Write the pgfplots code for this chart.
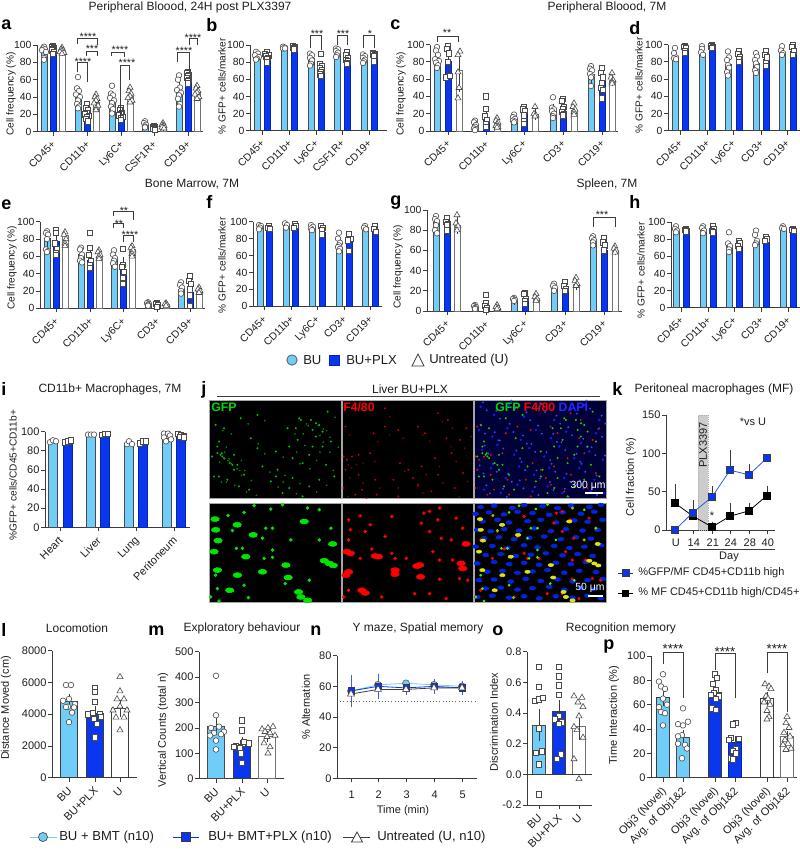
\documentclass[border=0pt]{standalone}
\usepackage{fontspec}
\setmainfont{Liberation Sans}
\usepackage{pgfplots}
\usepackage{pgfplotstable}
\pgfplotsset{compat=1.18}
\definecolor{lbl}{HTML}{6FCDF8}
\definecolor{blu}{HTML}{0A36F0}
\definecolor{axc}{HTML}{3C3C3C}
\definecolor{mkc}{HTML}{4A4A4A}
\definecolor{tc}{HTML}{1E1E1E}
\tikzset{px/.style={x=.75pt,y=-.75pt}}
\newcommand\fsT{\fontsize{9}{10}\selectfont}
\newcommand\fsU{\fontsize{7.8}{9}\selectfont}
\newcommand\fsD{\fontsize{8.25}{9}\selectfont}
\newcommand\fsL{\bfseries\fontsize{13.5}{14}\selectfont}
\newcommand\fsK{\fontsize{9.8}{11}\selectfont}
\newcommand\fsY{\fontsize{7.6}{9}\selectfont}
\newcommand\fsZ{\fontsize{8.25}{9}\selectfont}
\newcommand\ttl[3]{\node[font=\fsT,text=tc,inner sep=0pt] at (#1,#2) {#3};}
\newcommand\ltr[3]{\node[font=\fsL,text=black,anchor=west,inner sep=0pt] at (#1,#2) {#3};}
\newcommand\yl[3]{\node[font=\fsY,text=tc,rotate=90,inner sep=0pt] at (#1,#2) {#3};}
\newcommand\zl[3]{\node[font=\fsZ,text=tc,rotate=90,inner sep=0pt] at (#1,#2) {#3};}
\newcommand\brk[5]{\draw[draw=axc,line width=.45pt] (#1,#4) -- (#1,#3) -- (#2,#3) -- (#2,#5);}
\newcommand\str[3]{\node[font=\fontsize{8}{8}\selectfont,text=tc,inner sep=0pt,yshift=-1pt] at (#1,#2) {#3};}
\newcommand\strb[3]{\node[font=\fontsize{10}{10}\selectfont,text=tc,inner sep=0pt,yshift=-1.5pt] at (#1,#2) {#3};}
\pgfplotsset{
 pan/.style n args={4}{scale only axis, clip=false, xmin=#1, xmax=#2, ymin=0, enlargelimits=false,
   width={(#2-#1)*0.75pt}, height={(#3-#4)*0.75pt}, at={(#1*0.75pt,-#3*0.75pt)}, anchor=south west,
   axis lines=left, axis line style={-,color=axc,line width=.6pt},
   tick align=outside, major tick length=3pt, tick style={color=axc,line width=.6pt},
   /pgf/number format/assume math mode=true, /pgf/number format/1000 sep={},
   tick label style={font=\fsU,text=tc,inner sep=1pt},
   xticklabel style={rotate=45,anchor=north east,inner sep=1.2pt,xshift=-2pt},
   /pgf/bar width=5.8},
 low/.style={tick label style={font=\fsD,text=tc,inner sep=1pt}},
 flat/.style={xticklabel style={rotate=-45,anchor=north,inner sep=0pt,xshift=2pt,yshift=-#1}},
 lb/.style={ybar,fill=lbl,draw=mkc,line width=.5pt},
 bb/.style={ybar,fill=blu,draw=blu!70!black,line width=.5pt},
 wb/.style={ybar,fill=white,draw=gray!90!black,line width=.5pt},
 err/.style={draw=none,mark=none,error bars/.cd,y dir=both,y explicit,error bar style={color=axc,line width=.5pt},error mark options={color=axc,mark size=1.8pt}},
 cm/.style={only marks,mark=*,mark size=2.1pt,mark options={fill=white,draw=mkc,line width=.45pt}},
 sm/.style={only marks,mark=square*,mark size=2pt,mark options={fill=white,draw=mkc,line width=.45pt}},
 tm/.style={only marks,mark=triangle*,mark size=2.6pt,mark options={fill=white,draw=mkc,line width=.45pt}},
 img/.style n args={4}{scale only axis,hide axis,clip=true,xmin=0,xmax=395,ymin=0,ymax=295,y dir=reverse,
   width={(#2-#1)*0.75pt},height={(#4-#3)*0.75pt},at={(#1*0.75pt,-#4*0.75pt)},anchor=south west},
 spk/.style={only marks,mark=*,mark size=#1,mark options={draw=none}},
 spe/.style={only marks,mark=*,mark size=#1,mark options={draw=none,xscale=1.7,rotate=-35}},
}
\pgfplotstableread[row sep=crcr]{x y\\
270 55\\275 60\\305 60\\320 70\\330 75\\235 85\\260 85\\310 90\\340 95\\45 85\\20 75\\145 45\\240 140\\30 125\\25 140\\35 165\\25 160\\40 170\\10 170\\75 165\\70 195\\75 210\\105 225\\30 230\\55 240\\145 145\\200 155\\310 140\\340 140\\365 125\\265 120\\205 210\\200 230\\250 235\\185 245\\120 270\\220 280\\300 260\\350 195\\375 230\\330 240\\280 190\\160 200\\95 55\\355 35\\125 115\\90 260\\15 230\\250 175\\300 165\\320 110\\240 265\\280 290\\45 175\\38 160\\62 190\\85 195\\
}\tgreen
\pgfplotstableread[row sep=crcr]{x y\\
10 80\\5 170\\15 180\\30 170\\50 165\\85 160\\10 210\\50 225\\4 265\\40 285\\130 80\\95 100\\170 90\\130 25\\175 190\\200 210\\155 240\\100 240\\60 270\\105 285\\170 290\\229 80\\289 40\\319 60\\250 100\\315 115\\355 120\\330 160\\280 175\\240 200\\365 220\\290 225\\215 235\\340 265\\230 255\\270 275\\375 85\\
}\tred
\pgfplotstableread[row sep=crcr]{x y\\
20 20\\60 45\\105 15\\150 50\\195 25\\240 60\\290 30\\330 15\\375 60\\15 90\\55 110\\100 85\\140 120\\185 90\\230 115\\275 95\\320 130\\365 100\\25 150\\70 135\\120 165\\165 145\\210 170\\255 140\\300 175\\345 155\\385 180\\10 210\\50 205\\95 235\\135 200\\180 225\\225 205\\270 235\\315 205\\360 240\\30 270\\80 280\\130 255\\175 275\\220 260\\265 280\\310 255\\350 275\\390 280\\
}\tnoise
\pgfplotstableread[row sep=crcr]{x y\\
18 48\\84 65\\20 80\\132 95\\285 55\\27 112\\15 145\\370 122\\110 160\\360 180\\345 172\\372 186\\25 200\\85 215\\160 205\\237 222\\62 260\\268 265\\275 280\\295 290\\230 185\\
}\tgbig
\pgfplotstableread[row sep=crcr]{x y\\
57 37\\70 82\\170 75\\190 75\\185 18\\295 15\\160 105\\245 110\\330 110\\365 75\\82 135\\100 135\\190 140\\190 162\\165 165\\20 215\\300 230\\228 240\\25 255\\105 245\\118 282\\5 280\\30 292\\135 8\\220 5\\330 20\\105 28\\
}\tgsmall
\pgfplotstableread[row sep=crcr]{x y\\
15 145\\25 150\\20 205\\12 215\\60 260\\70 268\\160 200\\160 212\\110 160\\100 158\\374 122\\234 185\\226 188\\359 180\\364 195\\237 220\\
}\trbig
\pgfplotstableread[row sep=crcr]{x y\\
20 50\\55 38\\25 80\\85 65\\70 85\\20 110\\55 165\\90 137\\130 100\\150 150\\150 40\\160 165\\20 260\\120 280\\5 280\\264 25\\294 15\\247 30\\289 50\\344 45\\239 60\\364 75\\264 85\\299 105\\329 110\\274 145\\294 170\\334 170\\294 227\\354 225\\379 230\\264 270\\219 270\\314 285\\194 165\\
}\trsmall
\pgfplotstableread[row sep=crcr]{x y\\
20 12\\60 8\\115 14\\150 6\\205 10\\250 15\\290 8\\345 12\\380 6\\5 32\\45 28\\90 34\\130 26\\175 30\\225 35\\265 28\\320 32\\360 26\\25 55\\70 50\\105 58\\160 54\\200 50\\245 58\\300 52\\340 56\\385 50\\10 80\\50 84\\90 78\\135 82\\180 76\\230 84\\275 78\\325 82\\370 80\\30 105\\75 102\\120 108\\165 104\\210 100\\260 108\\305 102\\350 106\\5 130\\55 128\\100 134\\150 126\\190 132\\240 128\\285 134\\330 130\\380 126\\35 155\\80 152\\125 158\\170 154\\215 150\\265 156\\310 152\\355 158\\10 180\\60 176\\105 182\\150 178\\195 184\\245 178\\290 182\\335 176\\40 205\\85 202\\130 208\\175 204\\220 200\\270 208\\315 202\\365 206\\15 230\\60 228\\110 234\\155 226\\200 232\\250 228\\295 234\\340 230\\385 226\\35 255\\80 252\\130 258\\175 254\\225 250\\270 258\\320 252\\360 256\\10 280\\55 276\\105 282\\150 278\\195 284\\245 278\\295 282\\340 276\\380 284\\
}\tblue
\begin{document}
\begin{tikzpicture}
\useasboundingbox (0,0) rectangle (600pt,-638.25pt);

% ---------- panel a
\begin{axis}[pan={37}{203}{131.7}{45},ymax=100,ytick={0,20,...,100},xtick={53,87,121,154,188},xticklabels={CD45+,CD11b+,Ly6C+,CSF1R+,CD19+}]
\addplot[lb] coordinates {(44,91)(78,40)(112,35)(145,7)(179,46)};
\addplot[bb] coordinates {(53,94)(87,19)(121,19)(154,5)(188,62)};
\addplot[wb] coordinates {(62,92)(96,34)(130,41)(163,6)(197,45)};
\addplot[err] coordinates {(44,91)+-(0,4)(78,40)+-(0,8)(112,35)+-(0,6)(145,7)+-(0,2)(179,46)+-(0,8)(53,94)+-(0,3)(87,19)+-(0,5)(121,19)+-(0,3)(154,5)+-(0,1)(188,62)+-(0,4)(62,92)+-(0,2)(96,34)+-(0,5)(130,41)+-(0,5)(163,6)+-(0,2)(197,45)+-(0,4)};
\addplot[cm] coordinates {(44,98)(43,96)(45,95)(42,94)(46,92)(44,85)(44,83)(78,63)(77,50)(79,47)(76,43)(80,40)(78,36)(77,32)(79,29)(78,27)(112,53)(111,44)(113,42)(110,39)(114,36)(112,33)(111,29)(113,26)(112,21)(145,12)(144,10)(146,8)(145,6)(145,5)(179,65)(178,60)(180,51)(177,48)(181,45)(179,42)(178,38)(180,32)(179,29)};
\addplot[sm] coordinates {(53,99)(52,98)(54,97)(53,95)(52,94)(54,92)(53,90)(87,32)(86,27)(88,25)(87,22)(85,20)(89,18)(87,17)(86,15)(88,12)(121,27)(120,25)(122,22)(121,20)(119,19)(123,17)(121,16)(121,14)(154,7)(153,6)(155,5)(154,4)(153,3)(155,2)(188,69)(187,68)(189,66)(188,64)(187,62)(189,60)(188,58)(188,56)};
\addplot[tm] coordinates {(62,97)(61,95)(63,94)(62,93)(60,92)(64,91)(62,90)(96,43)(95,40)(97,38)(96,36)(94,33)(98,30)(96,27)(96,25)(130,51)(129,47)(131,44)(130,41)(128,39)(132,36)(130,34)(163,10)(162,8)(164,7)(163,6)(162,5)(164,4)(197,53)(196,50)(198,47)(197,45)(195,43)(199,40)(197,38)};
\end{axis}
% ---------- panel b
\begin{axis}[pan={250}{387}{130.7}{45},ymax=100,ytick={0,20,...,100},xtick={262,289,316,342,369},xticklabels={CD45+,CD11b+,Ly6C+,CSF1R+,CD19+}]
\addplot[lb] coordinates {(257,85)(284,97)(311,84)(337,90)(364,82)};
\addplot[bb] coordinates {(267,84)(294,95)(321,70)(347,80)(374,87)};
\addplot[cm] coordinates {(256,92)(258,90)(255,88)(259,86)(257,84)(256,83)(283,98)(285,97)(283,96)(285,96)(310,90)(312,88)(310,85)(312,82)(311,78)(310,76)(336,96)(338,95)(336,93)(338,91)(337,88)(336,86)(363,89)(365,87)(363,85)(365,83)(364,81)(363,79)};
\addplot[sm] coordinates {(267,92)(265,90)(269,88)(266,87)(268,85)(267,84)(267,80)(293,99)(295,98)(293,97)(295,96)(294,95)(321,90)(320,78)(322,76)(320,73)(322,71)(321,69)(320,66)(321,64)(347,92)(346,88)(348,85)(346,83)(348,81)(347,79)(347,78)(373,91)(375,90)(373,89)(375,88)(374,87)(374,81)};
\end{axis}
% ---------- panel c
\begin{axis}[pan={430}{618}{131}{44.5},ymax=100,ytick={0,20,...,100},xtick={448,486,524,563,602},xticklabels={CD45+,CD11b+,Ly6C+,CD3+,CD19+}]
\addplot[lb] coordinates {(437,83)(475,7)(514,14)(553,23)(591,65)};
\addplot[bb] coordinates {(448,80)(486,16)(524,20)(563,22)(602,57)};
\addplot[wb] coordinates {(459,70)(497,9)(535,19)(574,24)(612,59)};
\addplot[err] coordinates {(437,83)+-(0,7)(475,7)+-(0,3)(514,14)+-(0,3)(553,23)+-(0,6)(591,65)+-(0,7)(448,80)+-(0,14)(486,16)+-(0,10)(524,20)+-(0,7)(563,22)+-(0,6)(602,57)+-(0,11)(459,70)+-(0,22)(497,9)+-(0,4)(535,19)+-(0,4)(574,24)+-(0,4)(612,59)+-(0,4)};
\addplot[cm] coordinates {(437,97)(436,93)(438,88)(435,83)(439,81)(436,79)(438,76)(437,73)(475,12)(474,10)(476,7)(475,5)(474,3)(476,2)(475,1)(514,19)(513,16)(515,14)(513,12)(515,11)(514,10)(553,39)(552,27)(554,25)(552,23)(554,20)(553,17)(553,15)(591,75)(590,72)(592,70)(590,66)(592,63)(591,62)(591,52)};
\addplot[sm] coordinates {(448,98)(447,95)(449,90)(448,80)(446,62)(450,64)(486,40)(486,26)(485,17)(487,13)(486,8)(486,5)(524,28)(523,25)(525,23)(524,18)(524,12)(524,8)(563,37)(562,35)(564,28)(563,25)(562,22)(564,20)(563,18)(602,73)(601,67)(603,62)(602,55)(601,50)(603,48)(602,38)};
\addplot[tm] coordinates {(460,92)(458,88)(458,68)(459,50)(458,38)(497,15)(496,12)(498,10)(497,8)(496,6)(498,5)(497,4)(535,28)(534,20)(536,18)(535,17)(574,32)(573,28)(575,25)(574,22)(574,19)(612,67)(611,62)(613,59)(612,57)(612,55)};
\end{axis}
% ---------- panel d
\begin{axis}[pan={668}{800}{130.7}{44.5},ymax=100,ytick={0,20,...,100},xtick={680,707,733,761,787},xticklabels={CD45+,CD11b+,Ly6C+,CD3+,CD19+}]
\addplot[lb] coordinates {(675,85)(702,90)(728,77)(756,78)(782,91)};
\addplot[bb] coordinates {(685,93)(712,96)(739,85)(766,83)(793,92)};
\addplot[cm] coordinates {(675,96)(674,90)(676,85)(674,84)(676,83)(702,98)(702,95)(701,91)(703,88)(728,92)(729,85)(727,82)(728,76)(729,73)(727,68)(728,64)(756,90)(757,86)(755,82)(756,78)(757,74)(755,70)(756,67)(782,98)(781,93)(783,90)(782,88)};
\addplot[sm] coordinates {(685,98)(684,97)(686,96)(685,93)(685,90)(712,99)(711,98)(713,97)(712,96)(739,93)(738,89)(740,85)(739,83)(739,80)(766,92)(765,88)(767,85)(766,79)(766,75)(793,99)(792,97)(794,92)(793,88)};
\end{axis}
% ---------- panel e
\begin{axis}[pan={40}{205}{308.3}{221.7},ymax=100,ytick={0,20,...,100},xtick={56,90,123,157,190},xticklabels={CD45+,CD11b+,Ly6C+,CD3+,CD19+}]
\addplot[lb] coordinates {(47,81)(81,62)(114,57)(148,5)(181,22)};
\addplot[bb] coordinates {(56,77)(90,55)(123,44)(157,5)(190,19)};
\addplot[wb] coordinates {(65,84)(99,60)(132,68)(166,5)(199,20)};
\addplot[err] coordinates {(47,81)+-(0,8)(81,62)+-(0,6)(114,57)+-(0,6)(148,5)+-(0,2)(181,22)+-(0,5)(56,77)+-(0,10)(90,55)+-(0,8)(123,44)+-(0,13)(157,5)+-(0,2)(190,19)+-(0,12)(65,84)+-(0,5)(99,60)+-(0,3)(132,68)+-(0,4)(166,5)+-(0,1)(199,20)+-(0,2)};
\addplot[cm] coordinates {(47,89)(46,87)(48,85)(47,80)(46,68)(48,66)(47,65)(81,70)(80,68)(82,62)(81,58)(80,55)(82,53)(114,67)(113,62)(115,58)(114,55)(113,52)(115,48)(148,7)(147,6)(149,5)(148,4)(148,3)(181,30)(180,27)(182,24)(181,20)(181,17)};
\addplot[sm] coordinates {(56,90)(56,87)(55,75)(57,68)(56,64)(56,62)(90,87)(90,70)(89,62)(91,55)(90,50)(90,47)(123,69)(123,50)(122,48)(124,42)(123,35)(123,28)(157,6)(156,5)(158,4)(157,2)(190,37)(189,32)(191,28)(190,22)(190,15)(190,3)};
\addplot[tm] coordinates {(65,88)(64,85)(66,80)(65,75)(65,72)(99,67)(98,65)(100,62)(99,60)(99,57)(132,72)(131,70)(133,67)(132,63)(132,60)(166,6)(165,5)(167,4)(166,3)(199,24)(198,22)(200,20)(199,18)};
\end{axis}
% ---------- panel f
\begin{axis}[pan={253}{382}{306.3}{221.7},ymax=100,ytick={0,20,...,100},xtick={264,291,317,344,370},xticklabels={CD45+,CD11b+,Ly6C+,CD3+,CD19+}]
\addplot[lb] coordinates {(260,93)(286,95)(312,93)(339,70)(365,93)};
\addplot[bb] coordinates {(269,92)(295,94)(322,88)(349,78)(375,90)};
\addplot[cm] coordinates {(259,96)(261,95)(260,93)(259,91)(285,98)(287,96)(286,93)(311,96)(313,94)(311,92)(312,90)(339,87)(338,80)(340,75)(339,72)(338,70)(340,68)(339,65)(365,95)(364,93)(366,91)};
\addplot[sm] coordinates {(269,95)(268,93)(270,92)(295,97)(296,95)(294,93)(321,95)(323,93)(322,90)(322,85)(349,86)(351,80)(348,78)(349,66)(375,95)(374,92)(376,88)};
\end{axis}
% ---------- panel g
\begin{axis}[pan={427}{622}{311}{210},ymax=100,ytick={0,20,...,100},xtick={447,486,525,565,604},xticklabels={CD45+,CD11b+,Ly6C+,CD3+,CD19+}]
\addplot[lb] coordinates {(436,88)(475,4)(514,10)(554,22)(593,70)};
\addplot[bb] coordinates {(447,83)(486,4)(525,12)(565,20)(604,60)};
\addplot[wb] coordinates {(457,85)(497,3)(536,13)(576,26)(615,60)};
\addplot[err] coordinates {(436,88)+-(0,6)(475,4)+-(0,1)(514,10)+-(0,2)(554,22)+-(0,3)(593,70)+-(0,3)(447,83)+-(0,6)(486,4)+-(0,5)(525,12)+-(0,5)(565,20)+-(0,4)(604,60)+-(0,5)(457,85)+-(0,6)(497,3)+-(0,1)(536,13)+-(0,3)(576,26)+-(0,3)(615,60)+-(0,2)};
\addplot[cm] coordinates {(436,94)(435,91)(437,89)(436,85)(435,80)(437,77)(475,6)(474,5)(476,4)(475,3)(475,2)(514,13)(513,12)(515,11)(514,10)(554,27)(553,25)(555,23)(554,20)(593,74)(592,72)(594,70)(593,68)(593,65)};
\addplot[sm] coordinates {(447,92)(446,88)(448,86)(447,85)(447,80)(486,16)(486,8)(485,5)(487,3)(486,1)(525,18)(524,17)(526,12)(525,10)(525,7)(565,29)(564,25)(566,22)(565,20)(604,72)(603,68)(605,65)(604,60)};
\addplot[tm] coordinates {(457,95)(456,87)(458,84)(457,80)(497,6)(496,4)(498,3)(497,2)(536,17)(535,14)(537,12)(536,10)(576,33)(575,30)(577,27)(576,25)(615,64)(614,62)(616,60)(615,58)};
\end{axis}
% ---------- panel h
\begin{axis}[pan={671}{800}{307.7}{222},ymax=100,ytick={0,20,...,100},xtick={681,708,734,761,788},xticklabels={CD45+,CD11b+,Ly6C+,CD3+,CD19+}]
\addplot[lb] coordinates {(676,90)(703,92)(729,72)(756,76)(783,93)};
\addplot[bb] coordinates {(686,89)(713,90)(739,70)(766,78)(793,91)};
\addplot[cm] coordinates {(676,95)(675,92)(677,90)(676,88)(703,95)(702,93)(704,90)(703,87)(729,88)(728,75)(730,72)(729,68)(729,65)(756,90)(755,85)(757,78)(756,75)(755,73)(783,95)(782,93)(784,92)};
\addplot[sm] coordinates {(686,92)(685,91)(687,90)(686,89)(713,95)(714,92)(712,90)(713,88)(739,78)(740,75)(738,72)(739,69)(766,82)(767,80)(765,78)(793,92)(792,91)(794,90)};
\end{axis}
% ---------- panel i
\begin{axis}[pan={45}{190}{527.3}{431.7},ymax=100,low,ytick={0,20,...,100},xtick={60,98,136,174},xticklabels={Heart,Liver,Lung,Peritoneum},/pgf/bar width=8.6]
\addplot[lb] coordinates {(53,90)(91,97)(129,87)(167,93)};
\addplot[bb] coordinates {(68,89)(105,97)(143,88)(181,94)};
\addplot[cm] coordinates {(50,89)(53,91)(56,90)(88,97)(91,97)(94,97)(127,87)(129,90)(132,87)(164,98)(168,98)(164,94)(170,96)(166,90)(171,92)};
\addplot[sm] coordinates {(65,89)(68,90)(71,91)(102,97)(105,98)(108,98)(140,88)(143,90)(146,90)(178,98)(181,97)(184,96)(180,95)(184,94)};
\end{axis}
% ---------- panel j (micrographs)
\begin{scope}[px]
\foreach \xa/\xb/\ya/\yb in {209/341/400/498,342/473/400/498,474/606/400/498,209/341/503/602,342/473/503/602,474/606/503/602}{
  \fill[black,draw=gray!70,line width=.5pt] (\xa,\ya) rectangle (\xb,\yb);
}
\fill[blue!22!black] (474.5,400.5) rectangle (605.5,497.5);
\end{scope}
\begin{axis}[img={209}{341}{400}{498}]
\addplot[spk=.55pt,color=green!75!black] table {\tgreen};
\addplot[spk=.4pt,color=green!55!black] table[x expr=\thisrow{x}+22,y expr=\thisrow{y}+17] {\tgreen};
\end{axis}
\begin{axis}[img={342}{473}{400}{498}]
\addplot[spk=.5pt,color=red!80!black] table {\tred};
\addplot[spk=.35pt,color=red!60!black] table[x expr=\thisrow{x}+14,y expr=\thisrow{y}+25] {\tred};
\end{axis}
\begin{axis}[img={474}{606}{400}{498}]
\addplot[spk=.7pt,color=blue!90!white] table {\tnoise};
\addplot[spk=.5pt,color=blue!75!white] table[x expr=\thisrow{x}+18,y expr=\thisrow{y}+11] {\tnoise};
\addplot[spk=.5pt,color=blue!75!white] table[x expr=\thisrow{x}+7,y expr=\thisrow{y}-13] {\tnoise};
\addplot[spk=.5pt,color=red] table {\tred};
\addplot[spk=.55pt,color=green!85!black] table {\tgreen};
\end{axis}
\begin{axis}[img={209}{341}{503}{602}]
\addplot[spe=1.9pt,color=green!90!black] table {\tgbig};
\addplot[spk=1.1pt,color=green!90!black] table {\tgsmall};
\end{axis}
\begin{axis}[img={342}{473}{503}{602}]
\addplot[spe=1.9pt,color=red] table {\trbig};
\addplot[spk=1.1pt,color=red] table {\trsmall};
\end{axis}
\begin{axis}[img={474}{606}{503}{602}]
\addplot[spe=1.4pt,color=blue!85!cyan!90!black] table {\tblue};
\addplot[spk=1pt,color=red] table {\trsmall};
\addplot[spe=1.2pt,color=yellow!85!green] table {\tgbig};
\addplot[spk=.8pt,color=green!80!yellow] table {\tgsmall};
\end{axis}
\begin{scope}[px]
\draw[axc,line width=.6pt] (217,396) -- (600,396);
\node[font=\fsT,text=tc,inner sep=0pt] at (410,389) {Liver BU+PLX};
\def\fsJ{\bfseries\fontsize{9.2}{10}\selectfont}
\node[font=\fsJ,text=green!85!black,anchor=west,inner sep=0pt] at (211,407) {GFP};
\node[font=\fsJ,text=red,anchor=west,inner sep=0pt] at (343,407) {F4/80};
\node[font=\fsJ,anchor=west,inner sep=0pt] at (495,407) {\textcolor{green!85!black}{GFP} \textcolor{red}{F4/80} \textcolor{blue!85!white}{DAPI}};
\node[font=\fsU,text=white,inner sep=0pt] at (588,486) {300 μm};
\fill[white] (585,492) rectangle (603,494);
\node[font=\fsU,text=white,inner sep=0pt] at (590,588) {50 μm};
\fill[white] (588,595) rectangle (603,597);
\end{scope}
% ---------- panel k
\begin{axis}[pan={666}{775}{530}{415},ymax=150,low,ytick={0,50,100,150},xtick={675,693,712,730,749,767},xticklabels={U,14,21,24,28,40},flat=2pt]
\fill[gray!40,draw=gray!60,densely dotted] (axis cs:698,0) rectangle (axis cs:708,150);
\addplot[draw=none,mark=none,error bars/.cd,y dir=plus,y explicit,error bar style={color=axc,line width=.5pt},error mark options={color=axc,mark size=2.2pt}] coordinates {(675,35)+-(0,21)(693,18)+-(0,17)(712,4)+-(0,3)(730,18)+-(0,13)(749,25)+-(0,6)(767,45)+-(0,9)(693,23)+-(0,12)(712,43)+-(0,10)(730,78)+-(0,23)(749,72)+-(0,10)};
\addplot[color=black,line width=.6pt,mark=square*,mark size=2.6pt,mark options={fill=black,draw=black}] coordinates {(675,35)(693,18)(712,4)(730,18)(749,25)(767,45)};
\addplot[color=blu!85!white,line width=.6pt,mark=square*,mark size=2.6pt,mark options={fill=blu,draw=axc,line width=.4pt}] coordinates {(675,0)(693,23)(712,43)(730,78)(749,72)(767,94)};
\end{axis}
\begin{scope}[px]
\node[font=\fsD,text=tc,rotate=90,inner sep=0pt] at (703,445) {PLX3397};
\node[font=\fsD,text=tc,inner sep=0pt] at (753,422) {*vs U};
\node[font=\fsD,text=tc,inner sep=0pt] at (712,516) {*};
\draw[axc,line width=.5pt] (689,549) -- (775,549);
\node[font=\fsD,text=tc,inner sep=0pt] at (729,557) {Day};
\draw[blu,line width=.6pt] (618,573) -- (633,573);
\fill[blu,draw=axc,line width=.4pt] (622,569.5) rectangle (629,576.5);
\node[font=\fsD,text=tc,anchor=west,inner sep=0pt] at (638,573) {\%GFP/MF CD45+CD11b high};
\draw[black,line width=.6pt] (618,593) -- (633,593);
\fill[black] (622,589.5) rectangle (629,596.5);
\node[font=\fsD,text=tc,anchor=west,inner sep=0pt] at (638,593) {\% MF CD45+CD11b high/CD45+};
\end{scope}
% ---------- panel l
\begin{axis}[pan={52}{137}{777.7}{650.7},ymax=8000,low,ytick={0,2000,4000,6000,8000},xtick={69,95,120},xticklabels={BU,BU+PLX,U},/pgf/bar width=16.5]
\addplot[lb,draw=axc] coordinates {(69,4800)};
\addplot[bb,draw=axc] coordinates {(95,4050)};
\addplot[wb,draw=axc] coordinates {(120,4350)};
\addplot[err] coordinates {(69,4800)+-(0,300)(95,4050)+-(0,320)(120,4350)+-(0,370)};
\addplot[cm] coordinates {(66,5840)(71,5840)(63,4850)(69,4960)(75,4640)(68,4470)(74,4430)(66,4450)(72,4100)(69,3500)};
\addplot[sm] coordinates {(95,5650)(95,5400)(95,4800)(88,4000)(93,4100)(100,4000)(101,3850)(94,3700)(97,3400)(95,2550)};
\addplot[tm] coordinates {(120,6350)(120,5450)(117,4950)(124,4950)(120,4500)(113,4250)(127,4250)(116,3800)(124,3800)(120,3000)};
\end{axis}
% ---------- panel m
\begin{axis}[pan={199}{284}{778.7}{651.7},ymax=500,low,ytick={0,100,...,500},xtick={216,242,267},xticklabels={BU,BU+PLX,U},/pgf/bar width=16.5]
\addplot[lb] coordinates {(216,205)};
\addplot[bb,draw=axc] coordinates {(242,135)};
\addplot[wb] coordinates {(267,165)};
\addplot[err] coordinates {(216,205)+-(0,25)(242,135)+-(0,18)(267,165)+-(0,12)};
\addplot[cm] coordinates {(216,405)(216,250)(211,200)(219,205)(224,185)(214,180)(221,175)(210,170)(216,150)(216,115)};
\addplot[sm] coordinates {(242,230)(242,190)(236,130)(243,140)(249,140)(240,120)(234,125)(241,100)(242,62)(244,145)};
\addplot[tm] coordinates {(262,195)(268,200)(273,205)(265,185)(270,180)(275,170)(264,140)(270,125)(268,100)(267,165)};
\end{axis}
% ---------- panel n
\begin{axis}[pan={337}{477}{778.3}{655.7},ymax=80,low,ytick={0,20,...,80},xtick={351,378,406,434,462},xticklabels={1,2,3,4,5},flat=5pt]
\draw[axc!80,dotted,line width=.4pt] (axis cs:337,50) -- (axis cs:477,50);
\addplot[draw=none,mark=none,error bars/.cd,y dir=both,y explicit,error bar style={color=blu!80!white,line width=.5pt},error mark options={color=blu!80!white,mark size=2pt}] coordinates {(351,57)+-(0,8.5)(378,60)+-(0,6.5)(406,59)+-(0,3)(434,60)+-(0,3)(462,59)+-(0,3)};
\addplot[color=lbl,line width=.6pt,mark=*,mark size=2.6pt,mark options={fill=lbl,draw=mkc,line width=.4pt}] coordinates {(351,57)(378,61)(406,62)(434,61)(462,60)};
\addplot[color=blu,line width=.6pt,mark=square*,mark size=2.4pt,mark options={fill=blu,draw=axc,line width=.4pt}] coordinates {(351,57)(378,60)(406,59)(434,60)(462,59)};
\addplot[color=axc,line width=.6pt,mark=triangle*,mark size=3pt,mark options={fill=white,draw=axc,line width=.4pt}] coordinates {(351,55)(378,58)(406,58)(434,59)(462,59)};
\end{axis}
% ---------- panel o
\begin{axis}[pan={527}{592}{805}{651.7},ymin=-0.2,ymax=0.8,low,ytick={-0.2,0,0.2,0.4,0.6,0.8},yticklabels={-0.2,0.0,0.2,0.4,0.6,0.8},xtick={539,559,579},xticklabels={BU,BU+PLX,U},/pgf/bar width=13]
\addplot[lb] coordinates {(539,0.32)};
\addplot[bb,draw=axc] coordinates {(559,0.41)};
\addplot[wb] coordinates {(579,0.31)};
\draw[axc,line width=.6pt] (axis cs:527,0) -- (axis cs:592,0);
\addplot[err] coordinates {(539,0.32)+-(0,0.09)(559,0.41)+-(0,0.06)(579,0.31)+-(0,0.07)};
\addplot[sm] coordinates {(539,0.70)(539,0.57)(535,0.48)(539,0.49)(543,0.50)(539,0.30)(542,0.15)(536,0.14)(539,0.065)(539,-0.13)};
\addplot[sm] coordinates {(559,0.70)(559,0.64)(559,0.58)(559,0.52)(559,0.38)(555,0.36)(562,0.34)(559,0.33)(561,0.13)(557,0.10)};
\addplot[tm] coordinates {(574,0.51)(582,0.50)(578,0.47)(583,0.44)(579,0.38)(574,0.31)(577,0.29)(583,0.24)(574,0.10)(579,-0.03)};
\end{axis}
% ---------- panel p
\begin{axis}[pan={651}{797}{777.7}{656},ymax=100,low,ytick={0,20,...,100},xtick={663,683,715,735,767,787},xticklabels={Obj3 (Novel),Avg. of Obj1\&2,Obj3 (Novel),Avg. of Obj1\&2,Obj3 (Novel),Avg. of Obj1\&2},/pgf/bar width=13]
\addplot[lb,draw=axc] coordinates {(663,66)};
\addplot[lb] coordinates {(683,33)};
\addplot[bb,draw=axc] coordinates {(715,70)};
\addplot[bb] coordinates {(735,29)};
\addplot[wb,draw=axc] coordinates {(767,65)};
\addplot[wb] coordinates {(787,34)};
\addplot[err] coordinates {(663,66)+-(0,5)(683,33)+-(0,4)(715,70)+-(0,4)(735,29)+-(0,3)(767,65)+-(0,3.5)(787,34)+-(0,2.5)};
\addplot[cm] coordinates {(663,85)(659,79)(661,75)(665,73)(663,65)(659,58)(667,60)(661,54)(665,53)(663,43)(683,57)(678,44)(688,46)(683,43)(682,35)(678,34)(685,27)(678,28)(687,24)(682,16)};
\addplot[sm] coordinates {(715,85)(717,82)(713,77)(716,72)(714,70)(711,68)(719,67)(716,65)(712,57)(716,56)(736,45)(733,44)(731,33)(739,32)(729,31)(736,24)(733,22)(736,20)(731,16)(733,15)};
\addplot[tm] coordinates {(765,77)(769,75)(771,73)(766,67)(768,65)(764,62)(770,60)(767,55)(769,50)(767,48)(787,50)(786,45)(789,41)(784,37)(790,34)(785,31)(788,28)(783,27)(791,24)(786,23)};
\end{axis}
% ---------- titles, labels, letters
\begin{scope}[px]
\node[font=\fsD,text=tc,inner sep=0pt] at (403,811) {Time (min)};
\ttl{190}{7}{Peripheral Bloood, 24H post PLX3397}
\ttl{607}{7}{Peripheral Bloood, 7M}
\ttl{192}{184}{Bone Marrow, 7M}
\ttl{607}{184}{Spleen, 7M}
\ttl{110}{389}{CD11b+ Macrophages, 7M}
\ttl{714}{389}{Peritoneal macrophages (MF)}
\ttl{77}{628}{Locomotion}
\ttl{242}{628}{Exploratory behaviour}
\ttl{418}{628}{Y maze, Spatial memory}
\ttl{621}{628}{Recognition memory}
\ltr{1}{25}{a}\ltr{206}{25}{b}\ltr{390}{25}{c}\ltr{629}{28}{d}
\ltr{1}{205}{e}\ltr{206}{202}{f}\ltr{390}{203}{g}\ltr{629}{202}{h}
\ltr{1}{389}{i}\ltr{201}{390}{j}\ltr{612}{389}{k}
\ltr{1}{630}{l}\ltr{148}{631}{m}\ltr{310}{631}{n}\ltr{492}{631}{o}\ltr{603}{647}{p}
\yl{11}{94}{Cell frequency (\%)}
\yl{222}{86}{\% GFP+ cells/marker}
\yl{401}{94}{Cell frequency (\%)}
\yl{639}{85}{\% GFP+ cells/marker}
\yl{12}{268}{Cell frequency (\%)}
\yl{222}{265}{\% GFP+ cells/marker}
\yl{398}{267}{Cell frequency (\%)}
\yl{641}{270}{\% GFP+ cells/marker}
\yl{13}{475}{\%GFP+ cells/CD45+CD11b+}
\zl{631}{477}{Cell fraction (\%)}
\zl{6}{708}{Distance Moved (cm)}
\zl{163}{730}{Vertical Counts  (total n)}
\zl{306}{707}{\% Alternation}
\zl{494}{722}{Discrimination Index}
\zl{614}{715}{Time Interaction (\%)}
% ---------- significance brackets
\brk{77}{97}{38}{44}{45}\str{88}{35}{****}
\brk{86}{97}{51}{56}{56}\str{92}{47}{***}
\brk{77}{87}{62}{72}{82}\str{83}{60}{****}
\brk{111}{124}{52}{56}{57}\str{120}{48}{****}
\brk{120}{129}{65}{117}{80}\str{127}{61}{****}
\brk{189}{197}{38}{45}{45}\str{193}{36}{****}
\brk{177}{189}{52}{62}{70}\str{184}{49}{****}
\brk{310}{321}{35}{48}{50}\str{317}{32}{***}
\brk{337}{347}{35}{45}{45}\str{343}{32}{***}
\brk{363}{374}{35}{48}{48}\str{370}{32}{*}
\brk{437}{458}{36}{42}{42}\str{447}{31}{**}
\brk{113}{133}{211}{216}{220}\str{124}{209}{**}
\brk{113}{123}{223}{228}{228}\str{119}{222}{**}
\brk{123}{133}{235}{242}{242}\str{130}{233}{****}
\brk{593}{615}{217}{227}{227}\str{602}{213}{***}
\brk{663}{683}{652}{664}{698}\strb{673}{647}{****}
\brk{715}{735}{653}{670}{698}\strb{725}{650}{****}
\brk{767}{787}{652}{673}{712}\strb{777}{647}{****}
% ---------- legends
\fill[lbl,draw=mkc,line width=.5pt] (292,360) circle (3.9pt);
\node[font=\fsK,text=tc,anchor=west,inner sep=0pt] at (303,360) {BU};
\fill[blu,draw=blu!70!black] (329,355) rectangle (339,365);
\node[font=\fsK,text=tc,anchor=west,inner sep=0pt] at (346,360) {BU+PLX};
\draw[axc,line width=.6pt,fill=white] (412,366) -- (424,366) -- (418,354) -- cycle;
\node[font=\fsK,text=tc,anchor=west,inner sep=0pt] at (429,360) {Untreated (U)};
\draw[lbl,line width=.6pt] (30,837) -- (57,837);
\fill[lbl,draw=mkc,line width=.5pt] (43,837) circle (3.4pt);
\node[font=\fsK,text=tc,anchor=west,inner sep=0pt] at (59,837) {BU + BMT (n10)};
\draw[blu,line width=.6pt] (173,837) -- (199,837);
\fill[blu,draw=axc,line width=.4pt] (181.5,832.5) rectangle (190.5,841.5);
\node[font=\fsK,text=tc,anchor=west,inner sep=0pt] at (208,837) {BU+ BMT+PLX (n10)};
\draw[axc,line width=.6pt] (343,837) -- (370,837);
\draw[axc,line width=.6pt,fill=white] (351.5,842) -- (362.5,842) -- (357,832) -- cycle;
\node[font=\fsK,text=tc,anchor=west,inner sep=0pt] at (377,837) {Untreated (U, n10)};
\end{scope}
\end{tikzpicture}
\end{document}
